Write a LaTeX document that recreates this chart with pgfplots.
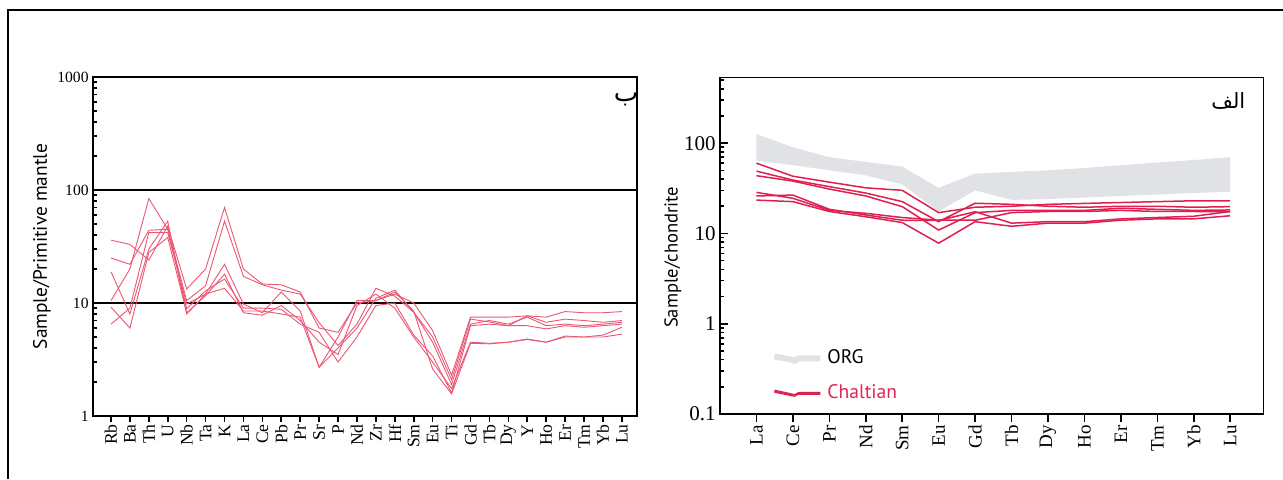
\documentclass[border=0pt]{standalone}
\usepackage{fontspec}
\usepackage{pgfplots}
\pgfplotsset{compat=1.18}
\setmainfont{Liberation Serif}
\newfontfamily\sans{PT Sans}
\newfontfamily\arabicfont[Script=Arabic]{DejaVu Sans}
\TeXXeTstate=1
\definecolor{lline}{RGB}{236,86,115}
\definecolor{rline}{RGB}{222,32,80}
\definecolor{orggray}{RGB}{224,226,230}
\definecolor{chal}{RGB}{225,35,85}
\begin{document}
\begin{tikzpicture}
\useasboundingbox (0,0) rectangle (641.5pt,239.5pt);
\draw[line width=0.8pt] (4pt,0pt) -- (4pt,234.5pt) -- (645pt,234.5pt);
% ---------------- left plot
\begin{axis}[
 at={(46.5pt,31.5pt)}, anchor=south west, width=272pt, height=169.5pt, scale only axis,
 ymode=log, ymin=1, ymax=1000, xmin=-0.95, xmax=27.8,
 xtick={0,...,27},
 xticklabels={Rb,Ba,Th,U,Nb,Ta,K,La,Ce,Pb,Pr,Sr,P,Nd,Zr,Hf,Sm,Eu,Ti,Gd,Tb,Dy,Y,Ho,Er,Tm,Yb,Lu},
 x tick label style={yshift=-3pt, rotate=90, anchor=east, font=\fontsize{8.8}{10}\selectfont, inner sep=1pt},
 ytick={1,10,100,1000}, yticklabels={1,10,100,1000},
 minor ytick={2,3,4,5,6,7,8,9,20,30,40,50,60,70,80,90,200,300,400,500,600,700,800,900},
 y tick label style={font=\fontsize{7.8}{9}\selectfont, inner sep=2pt},
 tick pos=left, tick align=inside, major tick length=3pt, minor tick length=2pt,
 x tick style={yshift=-3pt},
 tick style={black, line width=0.8pt},
 axis line style={line width=1pt},
 ylabel={Sample/Primitive mantle},
 ylabel style={font=\sans\fontsize{9.7}{11}\selectfont, at={(axis description cs:-0.094,0.5)}, anchor=center},
 clip=false,
]
\addplot[black, line width=1pt] coordinates {(-0.95,10) (27.8,10)};
\addplot[black, line width=1pt] coordinates {(-0.95,100) (27.8,100)};
\addplot[lline, line width=0.45pt, mark=none] coordinates {(0,36)(1,33)(2,24)(3,48)(4,13.3)(5,20)(6,70)(7,20)(8,14.7)(9,14.5)(10,12.5)(11,6)(12,5.5)(13,10)(14,10.5)(15,12)(16,10)(17,5.7)(18,2.3)(19,7.5)(20,7.5)(21,7.5)(22,7.7)(23,7.5)(24,8.4)(25,8.2)(26,8.2)(27,8.4)};
\addplot[lline, line width=0.45pt, mark=none] coordinates {(0,25)(1,22)(2,44)(3,45)(4,10.5)(5,14.2)(6,53)(7,17.2)(8,14.5)(9,13)(10,12)(11,6.7)(12,4.2)(13,6.5)(14,13.5)(15,11.5)(16,8.3)(17,5)(18,2.1)(19,7.2)(20,6.8)(21,6.3)(22,7.7)(23,6.75)(24,7.2)(25,7)(26,6.75)(27,7.0)};
\addplot[lline, line width=0.45pt, mark=none] coordinates {(0,18.9)(1,8)(2,30)(3,53)(4,8.0)(5,12)(6,22)(7,9.8)(8,8.2)(9,12.5)(10,8.5)(11,2.7)(12,4)(13,6)(14,11)(15,13)(16,8.3)(17,4.5)(18,1.9)(19,6.5)(20,7)(21,6.5)(22,7.5)(23,6.3)(24,6.5)(25,6.3)(26,6.5)(27,6.75)};
\addplot[lline, line width=0.45pt, mark=none] coordinates {(0,10.5)(1,20)(2,84)(3,45)(4,8.9)(5,12.8)(6,16.3)(7,9)(8,9)(9,8.8)(10,6.5)(11,5.5)(12,3)(13,5)(14,9.5)(15,10)(16,5.2)(17,3.4)(18,1.6)(19,6.3)(20,6.5)(21,6.3)(22,6.3)(23,5.9)(24,6.3)(25,6.1)(26,6.3)(27,6.5)};
\addplot[lline, line width=0.45pt, mark=none] coordinates {(0,9.2)(1,6)(2,28)(3,38)(4,8.2)(5,11.6)(6,18)(7,8.2)(8,7.8)(9,9.5)(10,7)(11,4.5)(12,3.5)(13,9.5)(14,12)(15,9)(16,5)(17,3)(18,1.75)(19,4.5)(20,4.4)(21,4.5)(22,4.8)(23,4.5)(24,5.1)(25,5)(26,5.2)(27,6.1)};
\addplot[lline, line width=0.45pt, mark=none] coordinates {(0,6.5)(1,9)(2,42)(3,42)(4,9.8)(5,12)(6,13.5)(7,8.5)(8,8.5)(9,8)(10,7.5)(11,2.7)(12,5)(13,10.5)(14,10.5)(15,12.5)(16,8.5)(17,2.6)(18,1.57)(19,4.4)(20,4.35)(21,4.5)(22,4.75)(23,4.5)(24,5)(25,5)(26,5)(27,5.3)};
\node[font=\arabicfont\fontsize{13}{15}\selectfont] at (rel axis cs:0.98,0.935) {\beginR ب\endR};
\end{axis}
% ---------------- right plot
\begin{axis}[
 at={(360pt,32.5pt)}, anchor=south west, width=271.5pt, height=168.5pt, scale only axis,
 ymode=log, ymin=0.1, ymax=540, xmin=-1, xmax=13.9,
 xtick={0,...,13},
 xticklabels={La,Ce,Pr,Nd,Sm,Eu,Gd,Tb,Dy,Ho,Er,Tm,Yb,Lu},
 x tick label style={yshift=-4pt, rotate=90, anchor=east, font=\fontsize{9.5}{11}\selectfont, inner sep=1.5pt},
 ytick={0.1,1,10,100}, yticklabels={0.1,1,10,100},
 minor ytick={0.2,0.3,0.4,0.5,0.6,0.7,0.8,0.9,2,3,4,5,6,7,8,9,20,30,40,50,60,70,80,90,200,300,400,500},
 y tick label style={font=\fontsize{10.5}{12}\selectfont, inner sep=2pt},
 tick pos=left, tick align=inside, major tick length=4pt, minor tick length=2.2pt,
 x tick style={yshift=-4pt},
 tick style={black, line width=0.8pt},
 axis line style={line width=0.5pt},
 ylabel={Sample/chondrite},
 ylabel style={font=\sans\fontsize{9.3}{11}\selectfont, at={(axis description cs:-0.087,0.465)}, anchor=center},
 clip=false,
 legend style={at={(0.083,0.215)}, anchor=north west, draw=none, fill=none,
   font=\sans\fontsize{9.8}{11}\selectfont, row sep=5pt, cells={anchor=west}},
 every axis plot/.append style={rline, line width=0.75pt},
]
\addplot[fill=orggray, draw=none, forget plot] coordinates {
 (0,126)(1,90)(2,70)(3,62)(4,55)(5,32)(6,46)(7,48)(8,50)(9,53)(10,57)(11,61)(12,65)(13,70)
 (13,29)(12,28)(11,27)(10,26)(9,25)(8,24)(7,23.5)(6,30)(5,17.5)(4,35)(3,44)(2,50)(1,57)(0,64)};
\addplot[forget plot] coordinates {(0,60)(1,43)(2,37)(3,32)(4,30)(5,17)(6,19.5)(7,20)(8,21)(9,21.5)(10,22)(11,22.5)(12,23)(13,23)};
\addplot[forget plot] coordinates {(0,49)(1,39)(2,33)(3,28)(4,22.5)(5,13.5)(6,21.6)(7,21)(8,20)(9,19.5)(10,20)(11,20)(12,19.5)(13,19.8)};
\addplot[forget plot] coordinates {(0,43.6)(1,38)(2,31)(3,26)(4,19.8)(5,10.9)(6,17)(7,18)(8,18)(9,18)(10,19)(11,18.5)(12,18)(13,18.2)};
\addplot[forget plot] coordinates {(0,28.5)(1,24.5)(2,18)(3,16.7)(4,15)(5,14)(6,14)(7,17)(8,17.5)(9,17.5)(10,18)(11,17.5)(12,17.5)(13,17.4)};
\addplot[forget plot] coordinates {(0,26)(1,26.6)(2,18.5)(3,16)(4,14)(5,13.9)(6,17.4)(7,13)(8,13.5)(9,13.5)(10,14.5)(11,15)(12,15.5)(13,17.5)};
\addplot[forget plot] coordinates {(0,23.4)(1,22.5)(2,17.5)(3,15.3)(4,13.2)(5,7.8)(6,13.5)(7,12)(8,13)(9,13)(10,14)(11,14.5)(12,14.5)(13,15.7)};
\addlegendimage{legend image code/.code={\draw[orggray, line width=3pt] (0pt,1pt) -- (8pt,-0.5pt) -- (10pt,-1.2pt) -- (12pt,0pt) -- (23pt,0pt);}}
\addlegendentry{ORG}
\addlegendimage{legend image code/.code={
 \draw[rline, line width=0.6pt] (0pt,1.6pt) -- (10pt,-0.6pt) -- (12pt,0pt) -- (23pt,0pt);
 \draw[rline, line width=0.6pt] (0pt,0.6pt) -- (10pt,-1.4pt) -- (12pt,-0.4pt) -- (23pt,-0.4pt);
 \draw[rline, line width=0.6pt] (0pt,1.1pt) -- (10pt,-1pt) -- (12pt,0.4pt) -- (23pt,0.4pt);}}
\addlegendentry{\textcolor{chal}{Chaltian}}
\draw[line width=1.1pt] (rel axis cs:0,1) -- (rel axis cs:0,0) -- (rel axis cs:1,0);
\node[font=\arabicfont\fontsize{10.5}{12}\selectfont] at (rel axis cs:0.936,0.93) {\beginR الف\endR};
\end{axis}
\end{tikzpicture}
\end{document}
